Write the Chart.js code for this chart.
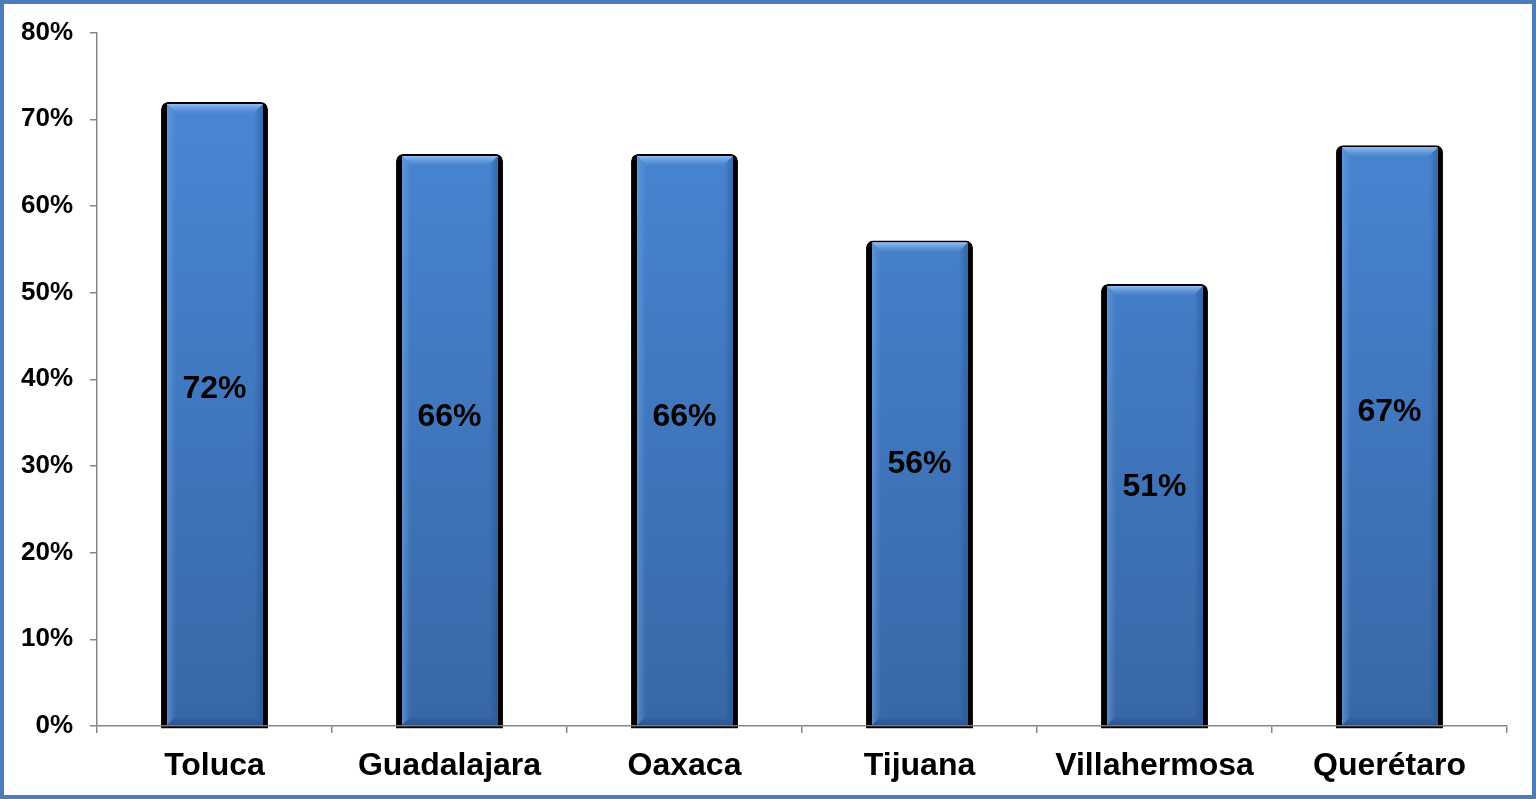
<!DOCTYPE html>
<html>
<head>
<meta charset="utf-8">
<script src="https://cdn.jsdelivr.net/npm/chart.js@4.4.1/dist/chart.umd.min.js"></script>
<style>
html,body{margin:0;padding:0;background:#fff;}
#wrap{width:1536px;height:799px;position:relative;}
</style>
</head>
<body>
<div id="wrap"><canvas id="c" width="1536" height="799"></canvas></div>
<script>
const categories = ["Toluca", "Guadalajara", "Oaxaca", "Tijuana", "Villahermosa", "Querétaro"];
const values = [72, 66, 66, 56, 51, 67];
const yTicks = [0, 10, 20, 30, 40, 50, 60, 70, 80];

const FONT = "'Liberation Sans', Arial, sans-serif";

const frame = {
  id: 'frame',
  beforeDraw(chart) {
    const ctx = chart.ctx;
    ctx.save();
    ctx.fillStyle = '#fff';
    ctx.fillRect(0, 0, chart.width, chart.height);
    ctx.restore();
  },
  afterDraw(chart) {
    const ctx = chart.ctx;
    ctx.save();
    ctx.strokeStyle = '#4A7EBB';
    ctx.lineWidth = 4;
    ctx.strokeRect(2, 2, chart.width - 4, chart.height - 4);
    ctx.restore();
  }
};

const bevel = {
  id: 'bevel',
  afterDatasetsDraw(chart) {
    const ctx = chart.ctx;
    const meta = chart.getDatasetMeta(0);
    const ys = chart.scales.y;
    ctx.save();
    meta.data.forEach((bar, i) => {
      const l = bar.x - bar.width / 2 + 6;
      const r = bar.x + bar.width / 2 - 5;
      const t = bar.y + 2;
      const b = bar.base;
      const d = 9;
      let g = ctx.createLinearGradient(0, t, 0, t + d);
      g.addColorStop(0, 'rgba(150,195,245,0.95)');
      g.addColorStop(1, 'rgba(100,150,220,0.2)');
      ctx.fillStyle = g;
      ctx.beginPath();
      ctx.moveTo(l, t); ctx.lineTo(r, t); ctx.lineTo(r - d, t + d); ctx.lineTo(l + d, t + d); ctx.closePath();
      ctx.fill();
      g = ctx.createLinearGradient(l, 0, l + d, 0);
      g.addColorStop(0, 'rgba(110,160,225,0.6)');
      g.addColorStop(1, 'rgba(110,160,225,0)');
      ctx.fillStyle = g;
      ctx.beginPath();
      ctx.moveTo(l, t); ctx.lineTo(l + d, t + d); ctx.lineTo(l + d, b - d); ctx.lineTo(l, b); ctx.closePath();
      ctx.fill();
      g = ctx.createLinearGradient(r, 0, r - d, 0);
      g.addColorStop(0, 'rgba(30,70,130,0.45)');
      g.addColorStop(1, 'rgba(30,70,130,0)');
      ctx.fillStyle = g;
      ctx.beginPath();
      ctx.moveTo(r, t); ctx.lineTo(r - d, t + d); ctx.lineTo(r - d, b - d); ctx.lineTo(r, b); ctx.closePath();
      ctx.fill();
      g = ctx.createLinearGradient(0, b, 0, b - d);
      g.addColorStop(0, 'rgba(30,60,110,0.45)');
      g.addColorStop(1, 'rgba(30,60,110,0)');
      ctx.fillStyle = g;
      ctx.beginPath();
      ctx.moveTo(l, b); ctx.lineTo(r, b); ctx.lineTo(r - d, b - d); ctx.lineTo(l + d, b - d); ctx.closePath();
      ctx.fill();
      ctx.fillStyle = '#000';
      ctx.fillRect(bar.x - bar.width / 2, b + 1, bar.width, 2);
      const v = values[i];
      const ly = ys.getPixelForValue(v * 0.54);
      ctx.fillStyle = '#000';
      ctx.font = "bold 32px " + FONT;
      ctx.textAlign = 'center';
      ctx.textBaseline = 'middle';
      ctx.fillText(v + '%', bar.x, ly);
    });
    ctx.restore();
  }
};

function barGradient(context) {
  const chart = context.chart;
  const area = chart.chartArea;
  if (!area) return '#4080D0';
  const g = chart.ctx.createLinearGradient(0, area.top, 0, area.bottom);
  g.addColorStop(0, '#4A8AD9');
  g.addColorStop(1, '#3867A7');
  return g;
}

new Chart(document.getElementById('c'), {
  type: 'bar',
  data: {
    labels: categories,
    datasets: [{
      data: values,
      backgroundColor: barGradient,
      borderColor: '#000',
      borderWidth: {left: 6, right: 5, top: 2, bottom: 0},
      borderSkipped: 'bottom',
      borderRadius: {topLeft: 7, topRight: 7, bottomLeft: 0, bottomRight: 0},
      barPercentage: 0.455,
      categoryPercentage: 1.0
    }]
  },
  options: {
    responsive: false,
    animation: false,
    devicePixelRatio: 1,
    layout: {padding: {left: 0, right: 29, top: 32, bottom: 0}},
    plugins: {legend: {display: false}, tooltip: {enabled: false}},
    scales: {
      x: {
        offset: true,
        grid: {display: true, drawOnChartArea: false, drawTicks: true, tickLength: 7, offset: true, color: '#868686', lineWidth: 1.5},
        border: {display: true, color: '#868686', width: 1.5},
        ticks: {color: '#000', font: {family: FONT, size: 32, weight: 'bold'}, padding: 14, maxRotation: 0},
        afterFit(s) { s.height = 73; }
      },
      y: {
        min: 0, max: 80,
        afterBuildTicks(s) { s.ticks = yTicks.map(v => ({value: v})); },
        grid: {display: true, drawOnChartArea: false, drawTicks: true, tickLength: 7, color: '#868686', lineWidth: 1.5},
        border: {display: true, color: '#868686', width: 1.5},
        ticks: {color: '#000', font: {family: FONT, size: 26, weight: 'bold'}, padding: 17, callback: v => v + '%'},
        afterFit(s) { s.width = 97; }
      }
    }
  },
  plugins: [frame, bevel]
});
</script>
</body>
</html>
